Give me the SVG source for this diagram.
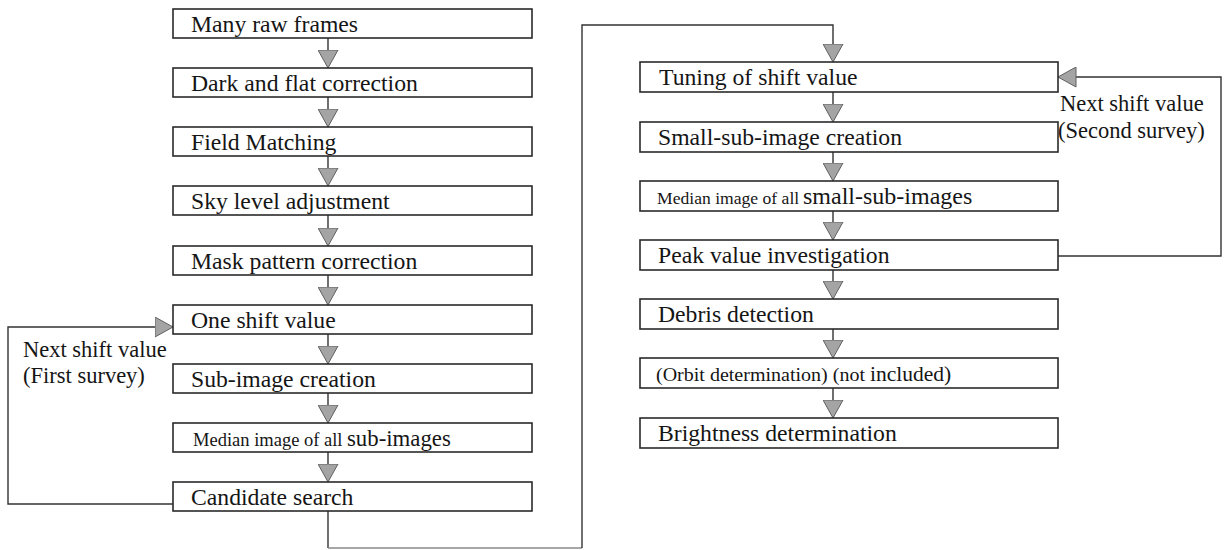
<svg xmlns="http://www.w3.org/2000/svg" width="1225" height="550" viewBox="0 0 1225 550">
<style>
  .box { fill: #ffffff; stroke: #2a2a2a; stroke-width: 1.6; }
  .ntext { font-family: "Liberation Serif", "Times New Roman", serif; font-size: 23.7px; fill: #151515; }
  .small { font-size: 18.5px; }
  .lbl { font-family: "Liberation Serif", "Times New Roman", serif; font-size: 22.5px; fill: #151515; }
  .conn { fill: none; stroke: #333333; stroke-width: 1.4; }
  .faint { stroke: #8a8a8a; }
</style>
<defs>
  <marker id="tri" markerUnits="userSpaceOnUse" viewBox="0 0 19 21" refX="18.5" refY="10.5" markerWidth="19" markerHeight="21" orient="auto">
    <path d="M0.5,0.5 L18.5,10.5 L0.5,20.5 Z" fill="#a4a4a4" stroke="#606060" stroke-width="1"/>
  </marker>
</defs>
<rect width="1225" height="550" fill="#ffffff"/>

<g id="connectors">
  <path class="conn" d="M328,38 V68" marker-end="url(#tri)"/>
  <path class="conn" d="M328,97 V127" marker-end="url(#tri)"/>
  <path class="conn" d="M328,156 V186" marker-end="url(#tri)"/>
  <path class="conn" d="M328,215 V246" marker-end="url(#tri)"/>
  <path class="conn" d="M328,275 V305" marker-end="url(#tri)"/>
  <path class="conn" d="M328,334 V364" marker-end="url(#tri)"/>
  <path class="conn" d="M328,393 V423" marker-end="url(#tri)"/>
  <path class="conn" d="M328,452 V482" marker-end="url(#tri)"/>
  <path class="conn" d="M173,504 H8 V327 H173" marker-end="url(#tri)"/>
  <path class="conn" d="M328,511 V548"/>
  <path class="conn faint" d="M328,548 H582"/>
  <path class="conn" d="M582,548 V25 H833 V62" marker-end="url(#tri)"/>
  <path class="conn" d="M833,92 V122" marker-end="url(#tri)"/>
  <path class="conn" d="M833,152 V181" marker-end="url(#tri)"/>
  <path class="conn" d="M833,211 V240" marker-end="url(#tri)"/>
  <path class="conn" d="M833,270 V299" marker-end="url(#tri)"/>
  <path class="conn" d="M833,329 V358" marker-end="url(#tri)"/>
  <path class="conn" d="M833,388 V418" marker-end="url(#tri)"/>
  <path class="conn" d="M1058,256 H1221 V77 H1058" marker-end="url(#tri)"/>
  <text class="lbl" x="23" y="357">Next shift value</text>
  <text class="lbl" x="23" y="383">(First survey)</text>
  <text class="lbl" x="1060" y="111">Next shift value</text>
  <text class="lbl" x="1058" y="138">(Second survey)</text>
</g>

<g id="n1"><rect class="box" x="173" y="9" width="359" height="29"/><text class="ntext" font-family="Liberation Serif, Times New Roman, serif" x="191" y="32">Many raw frames</text></g>
<g id="n2"><rect class="box" x="173" y="68" width="359" height="29"/><text class="ntext" font-family="Liberation Serif, Times New Roman, serif" x="191" y="91">Dark and flat correction</text></g>
<g id="n3"><rect class="box" x="173" y="127" width="359" height="29"/><text class="ntext" font-family="Liberation Serif, Times New Roman, serif" x="191" y="150">Field Matching</text></g>
<g id="n4"><rect class="box" x="173" y="186" width="359" height="29"/><text class="ntext" font-family="Liberation Serif, Times New Roman, serif" x="191" y="209">Sky level adjustment</text></g>
<g id="n5"><rect class="box" x="173" y="246" width="359" height="29"/><text class="ntext" font-family="Liberation Serif, Times New Roman, serif" x="191" y="269">Mask pattern correction</text></g>
<g id="n6"><rect class="box" x="173" y="305" width="359" height="29"/><text class="ntext" font-family="Liberation Serif, Times New Roman, serif" x="191" y="328">One shift value</text></g>
<g id="n7"><rect class="box" x="173" y="364" width="359" height="29"/><text class="ntext" font-family="Liberation Serif, Times New Roman, serif" x="191" y="387">Sub-image creation</text></g>
<g id="n8"><rect class="box" x="173" y="423" width="359" height="29"/><text class="ntext small" font-family="Liberation Serif, Times New Roman, serif" x="193" y="446">Median image of all</text><text class="ntext" font-family="Liberation Serif, Times New Roman, serif" x="347" y="446" style="font-size:22.8px">sub-images</text></g>
<g id="n9"><rect class="box" x="173" y="482" width="359" height="29"/><text class="ntext" font-family="Liberation Serif, Times New Roman, serif" x="191" y="505">Candidate search</text></g>

<g id="r1"><rect class="box" x="640" y="62" width="418" height="30"/><text class="ntext" font-family="Liberation Serif, Times New Roman, serif" x="659" y="85">Tuning of shift value</text></g>
<g id="r2"><rect class="box" x="640" y="122" width="418" height="30"/><text class="ntext" font-family="Liberation Serif, Times New Roman, serif" x="658" y="145">Small-sub-image creation</text></g>
<g id="r3"><rect class="box" x="640" y="181" width="418" height="30"/><text class="ntext" font-family="Liberation Serif, Times New Roman, serif" x="657" y="204" style="font-size:17.6px">Median image of all</text><text class="ntext" font-family="Liberation Serif, Times New Roman, serif" x="803" y="204" style="font-size:24px">small-sub-images</text></g>
<g id="r4"><rect class="box" x="640" y="240" width="418" height="30"/><text class="ntext" font-family="Liberation Serif, Times New Roman, serif" x="658" y="263">Peak value investigation</text></g>
<g id="r5"><rect class="box" x="640" y="299" width="418" height="30"/><text class="ntext" font-family="Liberation Serif, Times New Roman, serif" x="658" y="322">Debris detection</text></g>
<g id="r6"><rect class="box" x="640" y="358" width="418" height="30"/><text class="ntext small" font-family="Liberation Serif, Times New Roman, serif" x="656" y="381" textLength="209" lengthAdjust="spacingAndGlyphs">(Orbit determination) (not</text><text class="ntext" font-family="Liberation Serif, Times New Roman, serif" x="870" y="381" style="font-size:21.5px">included)</text></g>
<g id="r7"><rect class="box" x="640" y="418" width="418" height="30"/><text class="ntext" font-family="Liberation Serif, Times New Roman, serif" x="658" y="441">Brightness determination</text></g>
</svg>
